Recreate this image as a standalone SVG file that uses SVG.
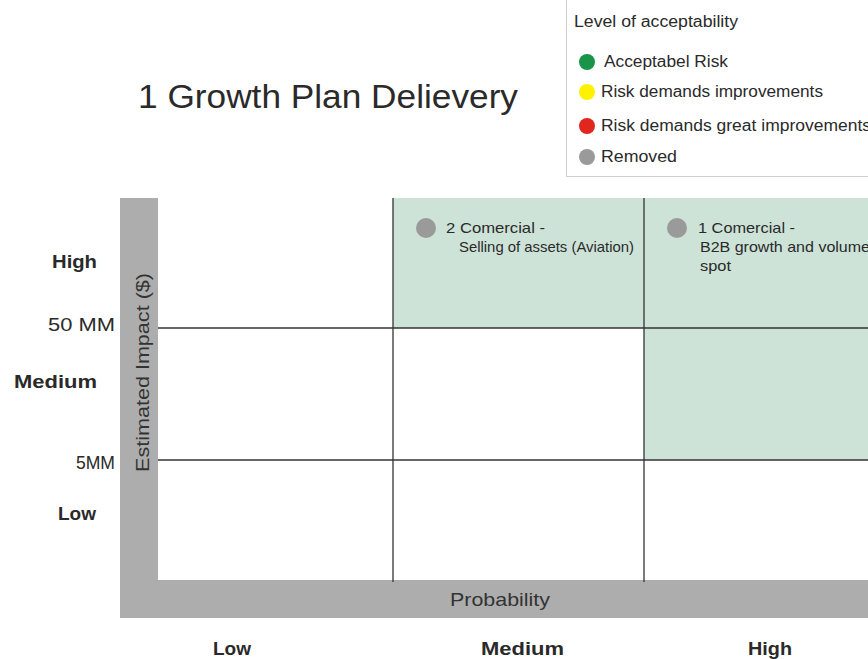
<svg xmlns="http://www.w3.org/2000/svg" width="868" height="659" viewBox="0 0 868 659">
  <style>
    text { font-family: "Liberation Sans", Arial, sans-serif; fill: #2a2a2a; }
    .title { font-size: 34px; }
    .leg { font-size: 16px; }
    .cell { font-size: 15px; }
    .axis { font-size: 19px; fill: #333; }
    .tick { font-size: 19px; }
    .band { font-size: 19px; font-weight: bold; }
    .grid { stroke: #333; stroke-width: 1.3; fill: none; }
    .zone { fill: #cde3d8; }
    .bar { fill: #adadad; }
  </style>

  <rect width="868" height="659" fill="#ffffff"/>

  <!-- Title -->
  <text class="title" x="138" y="108" textLength="380" lengthAdjust="spacingAndGlyphs">1 Growth Plan Delievery</text>

  <!-- Legend -->
  <g id="legend">
    <rect x="566.5" y="-2" width="320" height="178.5" fill="#ffffff" stroke="#cfcfcf" stroke-width="1"/>
    <text class="leg" x="574" y="27" textLength="164" lengthAdjust="spacingAndGlyphs">Level of acceptability</text>
    <circle cx="587" cy="62" r="8" fill="#1a9448"/>
    <text class="leg" x="604" y="67" textLength="124" lengthAdjust="spacingAndGlyphs">Acceptabel Risk</text>
    <circle cx="587" cy="92" r="8" fill="#fff200"/>
    <text class="leg" x="601" y="97" textLength="222" lengthAdjust="spacingAndGlyphs">Risk demands improvements</text>
    <circle cx="587" cy="126" r="8" fill="#e0261f"/>
    <text class="leg" x="601" y="131" textLength="270" lengthAdjust="spacingAndGlyphs">Risk demands great improvements</text>
    <circle cx="587" cy="157" r="8" fill="#9a9a9a"/>
    <text class="leg" x="601" y="162" textLength="76" lengthAdjust="spacingAndGlyphs">Removed</text>
  </g>

  <!-- Shaded risk zones -->
  <g id="zones">
    <rect class="zone" x="393" y="198" width="475" height="130"/>
    <rect class="zone" x="644" y="328" width="224" height="132"/>
  </g>

  <!-- Axis bars -->
  <g id="axes">
    <rect class="bar" x="120" y="198" width="38" height="420"/>
    <rect class="bar" x="120" y="580" width="748" height="38"/>
    <text class="axis" transform="translate(149 372.5) rotate(-90)" text-anchor="middle" textLength="199" lengthAdjust="spacingAndGlyphs">Estimated Impact ($)</text>
    <text class="axis" x="500" y="606" text-anchor="middle" textLength="100" lengthAdjust="spacingAndGlyphs">Probability</text>
  </g>

  <!-- Grid lines -->
  <g id="connectors">
    <line class="grid" x1="393" y1="198" x2="393" y2="582"/>
    <line class="grid" x1="644" y1="198" x2="644" y2="582"/>
    <line class="grid" x1="158" y1="328" x2="868" y2="328"/>
    <line class="grid" x1="158" y1="460" x2="868" y2="460"/>
  </g>

  <!-- Impact scale -->
  <g id="impact-scale">
    <text class="band" x="52" y="268" textLength="45" lengthAdjust="spacingAndGlyphs">High</text>
    <text class="tick" x="48" y="331" textLength="67" lengthAdjust="spacingAndGlyphs">50 MM</text>
    <text class="band" x="14" y="388" textLength="83" lengthAdjust="spacingAndGlyphs">Medium</text>
    <text class="tick" x="76" y="469" textLength="39" lengthAdjust="spacingAndGlyphs">5MM</text>
    <text class="band" x="58" y="520" textLength="38" lengthAdjust="spacingAndGlyphs">Low</text>
  </g>

  <!-- Probability scale -->
  <g id="probability-scale">
    <text class="band" x="213" y="655" textLength="38" lengthAdjust="spacingAndGlyphs">Low</text>
    <text class="band" x="481" y="655" textLength="83" lengthAdjust="spacingAndGlyphs">Medium</text>
    <text class="band" x="748" y="655" textLength="44" lengthAdjust="spacingAndGlyphs">High</text>
  </g>

  <!-- Risk items -->
  <g id="risk-2">
    <circle cx="426" cy="228" r="10" fill="#9a9a9a"/>
    <text class="cell" x="446" y="233" textLength="99" lengthAdjust="spacingAndGlyphs">2 Comercial -</text>
    <text class="cell" x="459" y="252" textLength="175" lengthAdjust="spacingAndGlyphs">Selling of assets (Aviation)</text>
  </g>
  <g id="risk-1">
    <circle cx="677" cy="228" r="10" fill="#9a9a9a"/>
    <text class="cell" x="698" y="233" textLength="97" lengthAdjust="spacingAndGlyphs">1 Comercial -</text>
    <text class="cell" x="700" y="252" textLength="170" lengthAdjust="spacingAndGlyphs">B2B growth and volume</text>
    <text class="cell" x="700" y="271" textLength="31" lengthAdjust="spacingAndGlyphs">spot</text>
  </g>
</svg>
